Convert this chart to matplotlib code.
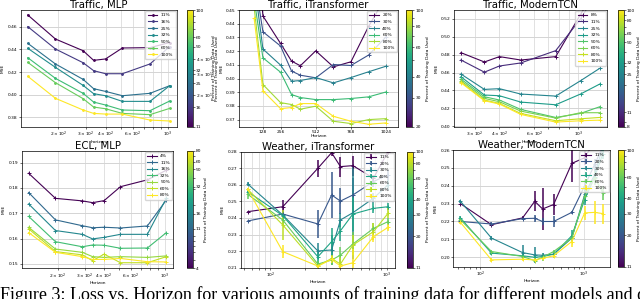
import matplotlib
matplotlib.use('Agg')
import matplotlib.pyplot as plt
import matplotlib.cm as cm
from matplotlib.colors import LogNorm

# ---- Traffic, MLP ----
tm_x = [128, 192, 288, 336, 400, 512, 768, 1024]
tm_pct = [11, 16, 25, 32, 50, 60, 100]
tm_mse = [
    [0.4703, 0.4491, 0.4388, 0.4303, 0.4315, 0.4412, 0.4415, 0.4460],
    [0.4600, 0.4403, 0.4282, 0.4212, 0.4185, 0.4185, 0.4271, 0.4424],
    [0.4453, 0.4271, 0.4135, 0.4053, 0.4029, 0.3991, 0.4012, 0.4079],
    [0.4409, 0.4241, 0.4082, 0.4009, 0.3991, 0.3941, 0.3941, 0.4079],
    [0.4326, 0.4144, 0.4012, 0.3935, 0.3909, 0.3865, 0.3859, 0.3944],
    [0.4285, 0.4106, 0.3965, 0.3891, 0.3876, 0.3835, 0.3824, 0.3879],
    [0.4162, 0.3968, 0.3865, 0.3835, 0.3829, 0.3829, 0.3776, 0.3768],
]
tm_cbar = [11, 16, 25, 32, 50, 60, 100]

# ---- Traffic, iTransformer ----
ti_x = [64, 128, 256, 336, 400, 512, 640, 768, 896, 1024]
ti_pct = [20, 30, 40, 60, 80, 100]
ti_mse = [
    [0.5200, 0.4456, 0.4256, 0.4127, 0.4093, 0.4202, 0.4085, 0.4122, 0.4380, 0.4600],
    [0.4750, 0.4341, 0.4237, 0.4054, 0.4024, 0.4005, 0.4102, 0.4095, 0.4171, 0.4305],
    [0.4710, 0.4215, 0.4098, 0.3980, 0.3985, 0.4007, 0.3968, 0.4007, 0.4049, 0.4090],
    [0.4580, 0.4151, 0.4046, 0.3883, 0.3861, 0.3846, 0.3846, 0.3854, 0.3866, 0.3902],
    [0.4520, 0.3956, 0.3824, 0.3810, 0.3776, 0.3798, 0.3688, 0.3671, 0.3700, 0.3707],
    [0.4439, 0.3910, 0.3780, 0.3788, 0.3817, 0.3817, 0.3724, 0.3688, 0.3666, 0.3676],
]
ti_cbar = [20, 30, 40, 60, 80, 100]
ti_xticks = [128, 256, 512, 768, 1024]

# ---- Traffic, ModernTCN ----
tt_x = [256, 336, 400, 512, 768, 1024, 1280]
tt_pct = [8, 11, 25, 32, 50, 60, 80, 100]
tt_mse = [
    [0.4822, 0.4718, 0.4778, 0.4740, 0.4778, 0.5250, 0.5600],
    [0.4740, 0.4604, 0.4673, 0.4707, 0.4845, 0.5200, 0.5550],
    [0.4583, 0.4411, 0.4419, 0.4359, 0.4336, 0.4508, 0.4647],
    [0.4553, 0.4348, 0.4340, 0.4269, 0.4239, 0.4359, 0.4471],
    [0.4527, 0.4329, 0.4292, 0.4187, 0.4097, 0.4142, 0.4217],
    [0.4508, 0.4310, 0.4273, 0.4168, 0.4090, 0.4150, 0.4150],
    [0.4493, 0.4292, 0.4254, 0.4142, 0.4060, 0.4082, 0.4097],
    [0.4486, 0.4284, 0.4247, 0.4131, 0.4045, 0.4060, 0.4067],
]
tt_cbar = [8, 11, 25, 32, 50, 60, 80, 100]

# ---- ECL, MLP ----
em_x = [128, 192, 288, 336, 400, 512, 768, 1024]
em_pct = [4, 11, 16, 32, 50, 60, 80]
em_mse = [
    [0.1858, 0.1759, 0.1749, 0.1742, 0.1750, 0.1805, 0.1832, 0.1870],
    [0.1782, 0.1674, 0.1651, 0.1643, 0.1645, 0.1642, 0.1650, 0.1753],
    [0.1737, 0.1632, 0.1617, 0.1599, 0.1605, 0.1617, 0.1617, 0.1760],
    [0.1688, 0.1588, 0.1568, 0.1575, 0.1574, 0.1562, 0.1563, 0.1624],
    [0.1645, 0.1559, 0.1546, 0.1529, 0.1526, 0.1529, 0.1526, 0.1532],
    [0.1639, 0.1549, 0.1536, 0.1513, 0.1539, 0.1505, 0.1505, 0.1529],
    [0.1624, 0.1546, 0.1529, 0.1518, 0.1518, 0.1522, 0.1509, 0.1508],
]
em_cbar = [4, 11, 16, 32, 50, 60, 80]

# ---- Weather, iTransformer ----
wi_x = [64, 128, 256, 336, 400, 512, 768, 1024]
wi_pct = [11, 20, 30, 40, 60, 80, 100]
wi_mse = [
    [0.2438, 0.2468, 0.2700, 0.2794, 0.2710, 0.2716, 0.2640, 0.2800],
    [0.2382, 0.2424, 0.2364, 0.2539, 0.2502, 0.2539, 0.2620, 0.2660],
    [0.2605, 0.2418, 0.2201, 0.2207, 0.2388, 0.2432, 0.2519, 0.2600],
    [0.2559, 0.2414, 0.2166, 0.2257, 0.2323, 0.2424, 0.2458, 0.2468],
    [0.2543, 0.2388, 0.2122, 0.2146, 0.2176, 0.2243, 0.2337, 0.2378],
    [0.2573, 0.2358, 0.2110, 0.2156, 0.2122, 0.2237, 0.2317, 0.2428],
    [0.2573, 0.2197, 0.2110, 0.2150, 0.2110, 0.2130, 0.2287, 0.2343],
]
wi_err = [
    [0.000, 0.004, 0.005, 0.002, 0.006, 0.006, 0.002, 0.002],
    [0.000, 0.002, 0.0085, 0.014, 0.008, 0.010, 0.003, 0.003],
    [0.001, 0.002, 0.005, 0.009, 0.004, 0.028, 0.003, 0.003],
    [0.001, 0.002, 0.004, 0.008, 0.006, 0.010, 0.003, 0.002],
    [0.003, 0.003, 0.002, 0.003, 0.005, 0.007, 0.003, 0.002],
    [0.001, 0.009, 0.001, 0.002, 0.004, 0.006, 0.005, 0.003],
    [0.001, 0.004, 0.001, 0.002, 0.002, 0.008, 0.003, 0.002],
]
wi_cbar = [11, 20, 30, 40, 60, 80, 100]

# ---- Weather, ModernTCN ----
wm_x = [64, 128, 256, 336, 400, 512, 768, 1024, 1280, 1536]
wm_pct = [11, 20, 30, 40, 60, 100]
wm_mse = [
    [0.2300, 0.2182, 0.2220, 0.2313, 0.2270, 0.2295, 0.2525, 0.2557, 0.2650, 0.2700],
    [0.2200, 0.2186, 0.2216, 0.2218, 0.2200, 0.2200, 0.2251, 0.2400, 0.2520, 0.2620],
    [0.2313, 0.2107, 0.2026, 0.2013, 0.2011, 0.2017, 0.2107, 0.2351, 0.2463, 0.2620],
    [0.2220, 0.2023, 0.2008, 0.2000, 0.2004, 0.2017, 0.2120, 0.2323, 0.2450, 0.2580],
    [0.2210, 0.2032, 0.2004, 0.1981, 0.2000, 0.2032, 0.2107, 0.2341, 0.2445, 0.2360],
    [0.2195, 0.1985, 0.1989, 0.1985, 0.1994, 0.2008, 0.2088, 0.2248, 0.2251, 0.2244],
]
wm_err = [
    [0.000, 0.001, 0.001, 0.0056, 0.0117, 0.006, 0.0103, 0.004, 0.003, 0.003],
    [0.000, 0.001, 0.001, 0.002, 0.002, 0.003, 0.001, 0.003, 0.003, 0.003],
    [0.001, 0.001, 0.004, 0.0047, 0.001, 0.001, 0.002, 0.003, 0.003, 0.003],
    [0.001, 0.001, 0.001, 0.001, 0.001, 0.002, 0.003, 0.003, 0.003, 0.003],
    [0.001, 0.001, 0.001, 0.001, 0.002, 0.001, 0.002, 0.003, 0.004, 0.004],
    [0.001, 0.001, 0.001, 0.001, 0.001, 0.001, 0.003, 0.004, 0.0066, 0.0056],
]
wm_cbar = [11, 20, 30, 40, 60, 100]

caption = ("Figure 3: Loss vs. Horizon for various amounts of training data "
           "for different models and different datasets")
cb_label = 'Percent of Training Data Used'

W, H = 640, 299
fig = plt.figure(figsize=(6.4, 2.99), dpi=100)
FS = 3.2


def box(l, t, r, b):  # pixel box -> figure fraction
    return [l / W, 1 - b / H, (r - l) / W, (b - t) / H]


def panel(rect, crect, title, x, pcts, rows, cticks, ylim, yticks, errs=None,
          marker='+', logx=True, xlab='Horizon', xlim=None, xticks=None, minor_grid=True):
    ax = fig.add_axes(box(*rect))
    cmap = plt.get_cmap('viridis')
    norm = LogNorm(cticks[0], cticks[-1])
    for i, p in enumerate(pcts):
        c = cmap(norm(p))
        if errs is not None:
            ax.errorbar(x, rows[i], yerr=errs[i], color=c, marker=marker, ms=2.6, mew=0.7,
                        lw=0.8, elinewidth=1.1, label=f'{p}%')
        else:
            ax.plot(x, rows[i], color=c, marker=marker, ms=2.6, mew=0.7, lw=0.8, label=f'{p}%')
    if logx:
        ax.set_xscale('log')
        ax.grid(True, which='both' if minor_grid else 'major', axis='x', color='#dcdcdc', lw=0.6)
    else:
        ax.set_xticks(xticks)
        ax.grid(True, axis='x', color='#dcdcdc', lw=0.6)
    ax.grid(True, axis='y', color='#d4d4d4', lw=0.7)
    ax.set_axisbelow(True)
    if xlim:
        ax.set_xlim(xlim)
    ax.set_ylim(ylim)
    ax.set_yticks(yticks)
    ax.yaxis.set_major_formatter(plt.FormatStrFormatter('%.2f'))
    ax.set_title(title, fontsize=7.3, pad=0.8)
    ax.set_xlabel(xlab, fontsize=FS, labelpad=0.2)
    ax.set_ylabel('MSE', fontsize=FS, labelpad=2)
    ax.tick_params(which='both', labelsize=FS, length=1.5, width=0.4, pad=0.8)
    for s in ax.spines.values():
        s.set_linewidth(0.5)
    ax.legend(loc='upper right', fontsize=FS, framealpha=0.8, borderaxespad=0.25,
              labelspacing=0.55, handlelength=2.2, borderpad=0.5, edgecolor='#cccccc')

    cax = fig.add_axes(box(*crect))
    sm = cm.ScalarMappable(norm=norm, cmap=cmap)
    cb = fig.colorbar(sm, cax=cax)
    cb.set_ticks(cticks, labels=[str(t) for t in cticks])
    cb.ax.tick_params(which='both', labelsize=FS, length=1.5, width=0.4, pad=1)
    cb.outline.set_linewidth(0.5)
    cb.set_label(cb_label, fontsize=FS, labelpad=1.5)
    return ax


panel((20.7, 10, 176.7, 127), (186.5, 10, 192.5, 127), 'Traffic, MLP', tm_x, tm_pct, tm_mse,
      tm_cbar, (0.3715, 0.4747), [0.38, 0.40, 0.42, 0.44, 0.46], marker='.', xlab='horizon')
panel((239, 10, 398, 127), (406, 10, 412, 127), 'Traffic, iTransformer', ti_x, ti_pct, ti_mse,
      ti_cbar, (0.3646, 0.45), [0.37, 0.38, 0.39, 0.40, 0.41, 0.42, 0.43, 0.44, 0.45],
      logx=False, xlim=(-46, 1110), xticks=ti_xticks)
panel((454, 10, 606.7, 127), (618.3, 10, 623.5, 127), 'Traffic, ModernTCN', tt_x, tt_pct, tt_mse,
      tt_cbar, (0.399, 0.530), [0.40, 0.42, 0.44, 0.46, 0.48, 0.50, 0.52])
panel((21.7, 150.7, 173.3, 268.3), (186.7, 150.7, 192.5, 268.3), 'ECL, MLP', em_x, em_pct, em_mse,
      em_cbar, (0.1483, 0.1947), [0.15, 0.16, 0.17, 0.18, 0.19])
panel((240.7, 151.7, 395, 267.7), (406.7, 151.7, 412.5, 267.7), 'Weather, iTransformer', wi_x,
      wi_pct, wi_mse, wi_cbar, (0.21, 0.28), [0.21, 0.22, 0.23, 0.24, 0.25, 0.26, 0.27, 0.28],
      errs=wi_err)
panel((453.3, 150, 610, 266.7), (618.3, 150, 623.5, 266.7), 'Weather, ModernTCN', wm_x, wm_pct,
      wm_mse, wm_cbar, (0.1947, 0.26), [0.20, 0.21, 0.22, 0.23, 0.24, 0.25, 0.26],
      errs=wm_err, minor_grid=False)

# leftover colorbar label at the left edge of the pasted iTransformer sub-figure
fig.text(214 / W, 1 - 68 / H, cb_label, rotation=90, fontsize=FS, ha='center', va='center')

fig.text(0.0, 1 - 286 / H, caption, fontsize=13, family='Liberation Serif', va='top', ha='left')

fig.savefig('out.png', dpi=100)
